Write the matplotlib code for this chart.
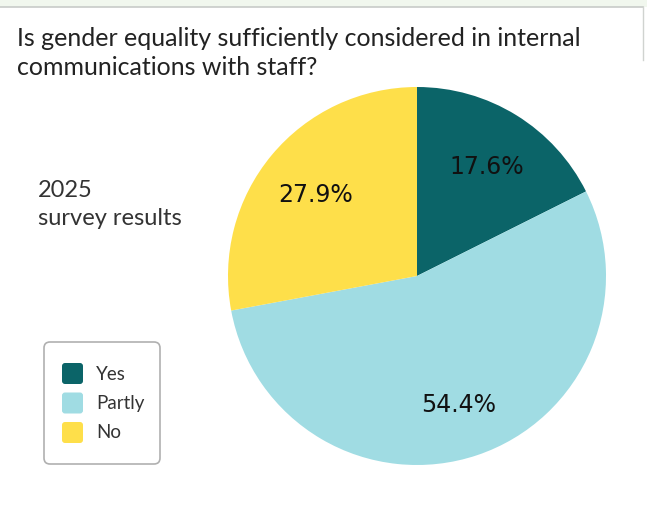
import matplotlib
matplotlib.use("Agg")
import matplotlib.pyplot as plt
from matplotlib.patches import FancyBboxPatch, Rectangle

categories = ["Yes", "Partly", "No"]
values = [17.6, 54.4, 27.9]
colors = ["#0b6468", "#a0dce3", "#fedf4a"]
title = "Is gender equality sufficiently considered in internal\ncommunications with staff?"
side_label = "2025\nsurvey results"

W, H = 647, 507
fig = plt.figure(figsize=(W / 100, H / 100), dpi=100)
fig.patch.set_facecolor("white")

# overlay axes in pixel coordinates (y downward)
ov = fig.add_axes([0, 0, 1, 1])
ov.set_xlim(0, W)
ov.set_ylim(H, 0)
ov.axis("off")
ov.add_patch(Rectangle((0, 0), W, 6.5, facecolor="#f1f7ee", edgecolor="none"))
ov.plot([0, 643], [7, 7], color="#c8cbc8", lw=1.2)
ov.plot([643, 643], [7, 60], color="#d0d3d0", lw=1.0)

ov.text(17, 27, title, fontsize=18, family="Lato", color="#222222",
        va="top", ha="left", linespacing=1.3)
ov.text(38, 180, side_label, fontsize=17, family="Lato", color="#333333",
        va="top", ha="left", linespacing=1.4)

# legend box
ov.add_patch(FancyBboxPatch((44, 342), 116, 122, boxstyle="round,pad=0,rounding_size=6",
                            facecolor="white", edgecolor="#b0b0b0", lw=1.2))
for i, (c, lab) in enumerate(zip(colors, categories)):
    y = 374 + i * 29.5
    ov.add_patch(FancyBboxPatch((62, y - 11), 21, 21, boxstyle="round,pad=0,rounding_size=3",
                                facecolor=c, edgecolor="none"))
    ov.text(96, y, lab, fontsize=13.5, family="Lato", color="#333333", va="center", ha="left")

# pie
cx, cy, r = 417, 276, 189
ax = fig.add_axes([(cx - r) / W, 1 - (cy + r) / H, 2 * r / W, 2 * r / H])
wedges, texts = ax.pie(values, colors=colors, startangle=90, counterclock=False,
                       labels=[f"{v:.1f}%" for v in values], labeldistance=0.7,
                       textprops=dict(fontsize=17, family="DejaVu Sans", color="#111111"),
                       wedgeprops=dict(linewidth=0))
for t in texts:
    x, y = t.get_position()
    t.set_position((x, y - 0.02))
    t.set_ha("center")
    t.set_va("center")
ax.set_xlim(-1, 1)
ax.set_ylim(-1, 1)
ax.set_aspect("equal")
ax.axis("off")

fig.savefig("out.png", dpi=100, facecolor="white")
